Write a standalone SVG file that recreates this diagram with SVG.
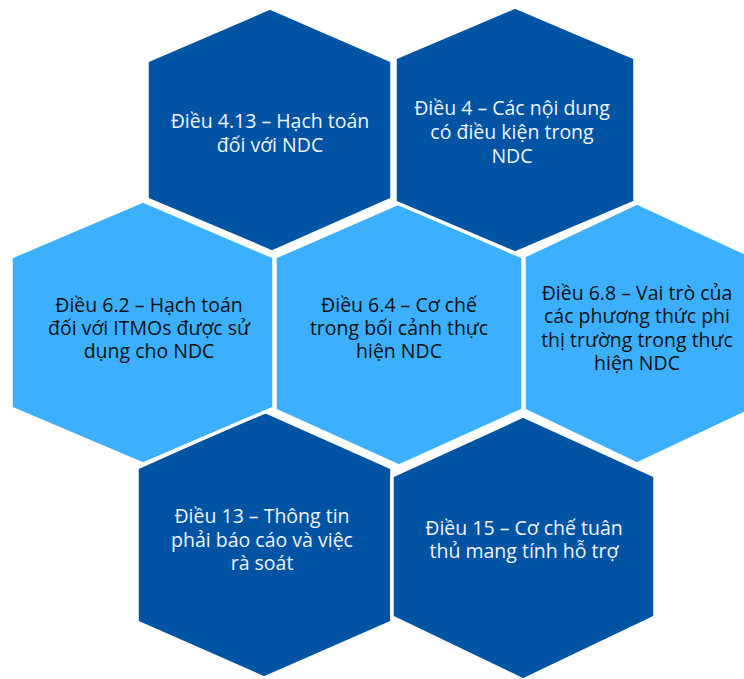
<svg xmlns="http://www.w3.org/2000/svg" width="744" height="679" viewBox="0 0 744 679">
<style>
.dark{fill:#0154A4;stroke:#FFFFFF;stroke-width:3.5;stroke-linejoin:miter}
.light{fill:#3CB0FE;stroke:#FFFFFF;stroke-width:3.5;stroke-linejoin:miter}
text{font-family:"Open Sans","Noto Sans","DejaVu Sans",sans-serif;font-size:19.5px;text-anchor:middle}
.tl{fill:#F0F3F8}
.td{fill:#111111}
</style>
<rect width="744" height="679" fill="#FFFFFF"/>
<g id="connectors"/>
<g id="n6">
<polygon class="dark" points="264,411 392,468 392,622 264,678 137,622 137,468"/>
<text class="tl" x="262" y="523">Điều 13 – Thông tin</text>
<text class="tl" x="262" y="547">phải báo cáo và việc</text>
<text class="tl" x="262" y="570">rà soát</text>
</g>
<g id="n7">
<polygon class="dark" points="523,416 655,476 655,617 523,680 392,617 392,476"/>
<text class="tl" x="524" y="535">Điều 15 – Cơ chế tuân</text>
<text class="tl" x="524" y="558">thủ mang tính hỗ trợ</text>
</g>
<g id="n3">
<polygon class="light" points="143,201 274,257 274,408 143,464 11,408 11,257"/>
<text class="td" x="149" y="312">Điều 6.2 – Hạch toán</text>
<text class="td" x="149" y="335">đối với ITMOs được sử</text>
<text class="td" x="149" y="358">dụng cho NDC</text>
</g>
<g id="n4">
<polygon class="light" points="399,203 523,257 523,410 399,466 275,410 275,257"/>
<text class="td" x="399" y="312">Điều 6.4 – Cơ chế</text>
<text class="td" x="399" y="335">trong bối cảnh thực</text>
<text class="td" x="399" y="358">hiện NDC</text>
</g>
<g id="n5">
<polygon class="light" points="637,203 752,256 752,410 637,464 524,410 524,256"/>
<text class="td" x="637" y="300">Điều 6.8 – Vai trò của</text>
<text class="td" x="637" y="323">các phương thức phi</text>
<text class="td" x="637" y="347">thị trường trong thực</text>
<text class="td" x="637" y="370">hiện NDC</text>
</g>
<g id="n1">
<polygon class="dark" points="270,8 392,61 392,199 272,252 147,199 147,61"/>
<text class="tl" x="270" y="128">Điều 4.13 – Hạch toán</text>
<text class="tl" x="270" y="152">đối với NDC</text>
</g>
<g id="n2">
<polygon class="dark" points="515,7 635,58 635,202 515,253 395,202 395,58"/>
<text class="tl" x="512" y="115">Điều 4 – Các nội dung</text>
<text class="tl" x="512" y="139">có điều kiện trong</text>
<text class="tl" x="512" y="163">NDC</text>
</g>
</svg>
